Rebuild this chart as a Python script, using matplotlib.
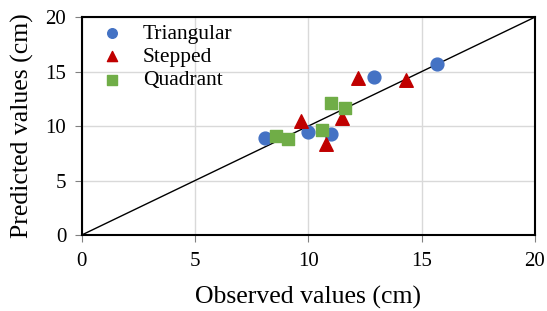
import matplotlib.pyplot as plt

# Valores
tri_obs = [8.1, 10.0, 11.0, 12.9, 15.7]
tri_pred = [8.9, 9.5, 9.3, 14.5, 15.7]
step_obs = [9.7, 10.8, 11.5, 12.2, 14.3]
step_pred = [10.5, 8.4, 10.7, 14.4, 14.2]
quad_obs = [8.6, 9.1, 10.6, 11.0, 11.6]
quad_pred = [9.1, 8.8, 9.6, 12.1, 11.7]
linha_ref = [0, 20]

plt.rcParams['font.family'] = ['Liberation Serif', 'DejaVu Serif']

fig = plt.figure(figsize=(5.47, 3.11), dpi=100)
ax = fig.add_axes([0.149, 0.244, 0.829, 0.701])

ax.plot(linha_ref, linha_ref, color='black', lw=1, zorder=2)
ax.scatter(tri_obs, tri_pred, marker='o', s=85, color='#4472C4', label='Triangular', zorder=3)
ax.scatter(step_obs, step_pred, marker='^', s=95, color='#C00000', label='Stepped', zorder=3)
ax.scatter(quad_obs, quad_pred, marker='s', s=80, color='#70AD47', label='Quadrant', zorder=3)

ax.set_xlim(0, 20)
ax.set_ylim(0, 20)
ax.set_xticks(range(0, 21, 5))
ax.set_yticks(range(0, 21, 5))
ax.grid(True, color='#D9D9D9', lw=1)
ax.set_axisbelow(True)
ax.tick_params(labelsize=15, length=5, color='#808080', direction='out')
ax.tick_params(axis='x', pad=7)
ax.tick_params(axis='y', pad=6)
for s in ax.spines.values():
    s.set_linewidth(1.5)
    s.set_color('black')

ax.set_xlabel('Observed values (cm)', fontsize=18.5, labelpad=11)
ax.set_ylabel('Predicted values (cm)', fontsize=18.5, labelpad=8)

ax.legend(loc='upper left', frameon=False, fontsize=15.5, handletextpad=0.35,
          borderaxespad=0.0, borderpad=0.3, labelspacing=0.15, markerscale=0.75,
          handlelength=2.2)

fig.savefig('out.png', dpi=100)
